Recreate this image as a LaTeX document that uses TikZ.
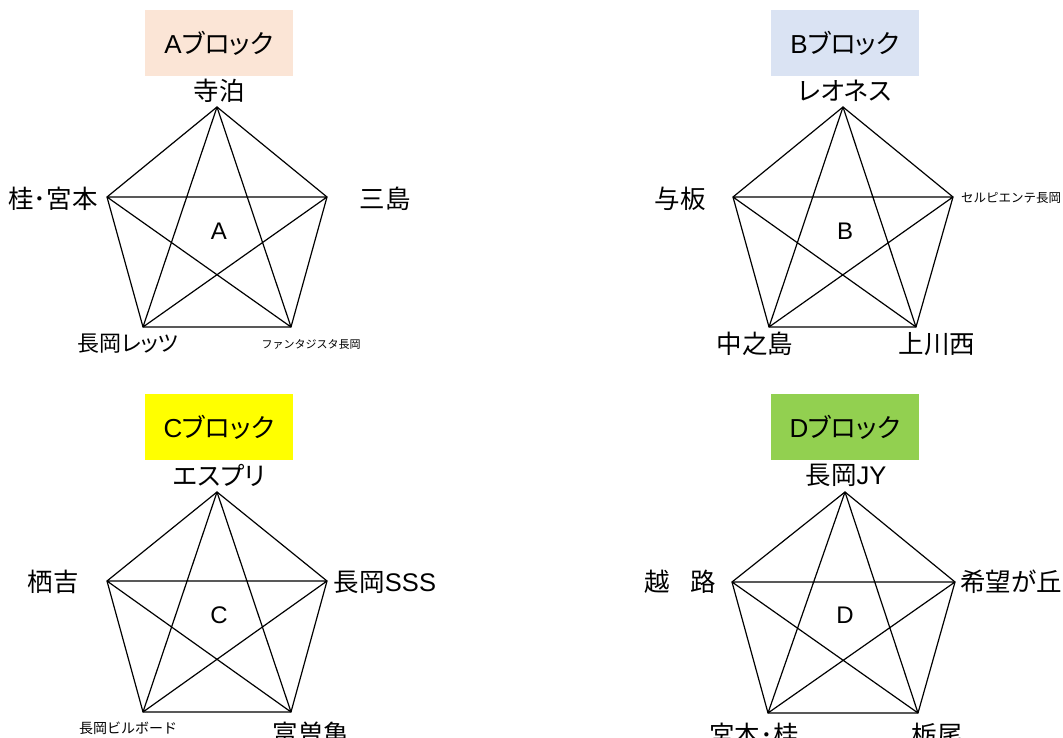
\documentclass[tikz,border=0pt]{standalone}
\usepackage{fontspec}
\setmainfont{Liberation Sans}
\newfontfamily\jp{Noto Sans CJK JP}
\newfontfamily\jpp[RawFeature=+palt]{Noto Sans CJK JP}
\definecolor{peach}{HTML}{FBE5D6}
\definecolor{paleblue}{HTML}{DAE3F3}
\definecolor{brightyellow}{HTML}{FFFF00}
\definecolor{leafgreen}{HTML}{92D050}
\newcommand\pentagram[1]{%
  \draw[edge] (#11)--(#12)--(#13)--(#14)--(#15)--cycle;
  \draw[edge] (#11)--(#13) (#11)--(#14) (#12)--(#14) (#12)--(#15) (#13)--(#15);}
\begin{document}
\begin{tikzpicture}[x=1pt,y=-1pt,
  edge/.style={line width=1.2pt, black, line join=miter},
  title/.style={minimum width=148pt, minimum height=66pt, inner sep=0pt, font=\fontsize{26}{30}\selectfont},
  lab/.style={font=\fontsize{25.5}{28}\selectfont, inner sep=0pt},
  small/.style={font=\fontsize{11}{14}\selectfont, inner sep=0pt},
  ctr/.style={font=\fontsize{24}{28}\selectfont, inner sep=0pt}]
\useasboundingbox (0,0) rectangle (1063,738);
% ---------- Block A ----------
\node[title, fill=peach] (tA) at (219,43) {A{\jpp ブロック}};
\coordinate (a1) at (217,107);
\coordinate (a2) at (327,197);
\coordinate (a3) at (291,327);
\coordinate (a4) at (143,327);
\coordinate (a5) at (107,197);
\pentagram{a}
\node[lab] (la1) at (219,91) {\jp 寺泊};
\node[lab] (la2) at (385,199) {\jp 三島};
\node[small] (la3) at (311,344) {\jp ファンタジスタ長岡};
\node[lab, font=\fontsize{22}{26}\selectfont] (la4) at (128,344) {\jpp 長岡レッツ};
\node[lab] (la5) at (53,199) {\jp 桂･宮本};
\node[ctr] (cA) at (219,231) {A};
% ---------- Block B ----------
\node[title, fill=paleblue] (tB) at (845,43) {B{\jpp ブロック}};
\coordinate (b1) at (843,107);
\coordinate (b2) at (953,197);
\coordinate (b3) at (916,327);
\coordinate (b4) at (769,327);
\coordinate (b5) at (733,197);
\pentagram{b}
\node[lab] (lb1) at (845,91) {\jpp レオネス};
\node[small, font=\fontsize{12.5}{15}\selectfont] (lb2) at (1011,198) {\jp セルピエンテ長岡};
\node[lab] (lb3) at (937,344) {\jp 上川西};
\node[lab] (lb4) at (755,344) {\jp 中之島};
\node[lab] (lb5) at (680,199) {\jp 与板};
\node[ctr] (cB) at (845,231) {B};
% ---------- Block C ----------
\node[title, fill=brightyellow] (tC) at (219,427) {C{\jpp ブロック}};
\coordinate (c1) at (217,492);
\coordinate (c2) at (327,581);
\coordinate (c3) at (291,712);
\coordinate (c4) at (143,712);
\coordinate (c5) at (107,581);
\pentagram{c}
\node[lab] (lc1) at (219,475) {\jpp エスプリ};
\node[lab] (lc2) at (385,582) {{\jp 長岡}SSS};
\node[lab] (lc3) at (311,734) {\jp 富曽亀};
\node[small, font=\fontsize{14}{16}\selectfont] (lc4) at (128,728) {\jp 長岡ビルボード};
\node[lab] (lc5) at (53,582) {\jp 栖吉};
\node[ctr] (cC) at (219,615) {C};
% ---------- Block D ----------
\node[title, fill=leafgreen] (tD) at (845,427) {D{\jpp ブロック}};
\coordinate (d1) at (845,492);
\coordinate (d2) at (955,582);
\coordinate (d3) at (918,713);
\coordinate (d4) at (768,713);
\coordinate (d5) at (732,582);
\pentagram{d}
\node[lab] (ld1) at (846,475) {{\jp 長岡}JY};
\node[lab] (ld2) at (1011,582) {\jp 希望が丘};
\node[lab] (ld3) at (937,735) {\jp 栃尾};
\node[lab] (ld4) at (754,735) {\jp 宮本･桂};
\node[lab] (ld5) at (680,582) {\jp 越\hspace{0.8em}路};
\node[ctr] (cD) at (845,615) {D};
\end{tikzpicture}
\end{document}
